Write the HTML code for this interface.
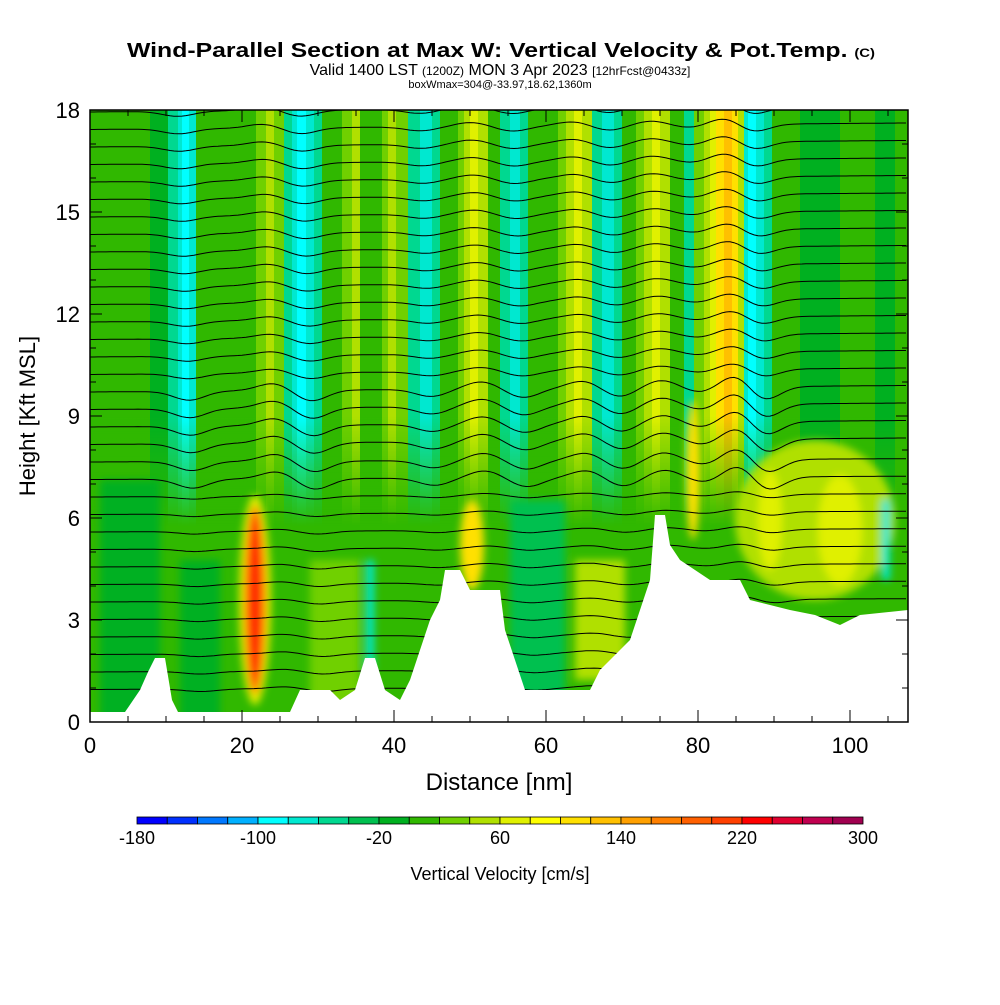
<!DOCTYPE html>
<html><head><meta charset="utf-8"><style>
body{margin:0;background:#fff;width:1000px;height:1000px;overflow:hidden;font-family:"Liberation Sans",Arial,sans-serif}
</style></head><body>
<svg id="s" width="1000" height="1000" xmlns="http://www.w3.org/2000/svg" font-family="Liberation Sans, Arial, sans-serif">
<defs>
<linearGradient id="g1" x1="90" x2="908" y1="0" y2="0" gradientUnits="userSpaceOnUse"></linearGradient>
<linearGradient id="fade" x1="0" x2="0" y1="110" y2="722" gradientUnits="userSpaceOnUse">
<stop offset="0" stop-color="#fff"/><stop offset="0.5" stop-color="#fff"/><stop offset="0.68" stop-color="#000"/><stop offset="1" stop-color="#000"/>
</linearGradient>
<mask id="m1"><rect x="90" y="110" width="818" height="612" fill="url(#fade)"/></mask>
<clipPath id="pc"><rect x="90" y="110" width="818" height="612"/></clipPath>
<filter id="bl"><feGaussianBlur stdDeviation="4"/></filter>
</defs>
<rect x="90" y="110" width="818" height="612" fill="#30b800"/>
<g clip-path="url(#pc)">
<rect x="90" y="110" width="818" height="612" fill="url(#g1)" mask="url(#m1)"/>
<g filter="url(#bl)">
<rect x="100" y="480" width="60" height="240" fill="#00b020"/>
<rect x="180" y="560" width="40" height="160" fill="#00b020"/>
<ellipse cx="255" cy="600" rx="16" ry="105" fill="#e0f000"/>
<ellipse cx="255" cy="600" rx="11" ry="95" fill="#ff8000"/>
<ellipse cx="255" cy="600" rx="6" ry="85" fill="#ff2000"/>
<rect x="310" y="560" width="50" height="150" fill="#70d000"/>
<rect x="366" y="560" width="8" height="110" fill="#00e8d0"/>
<ellipse cx="472" cy="545" rx="12" ry="45" fill="#ffe000"/>
<rect x="510" y="500" width="55" height="200" fill="#00c050"/>
<rect x="575" y="560" width="50" height="120" fill="#b0e000"/>
<ellipse cx="693" cy="470" rx="7" ry="70" fill="#ffe000"/>
<ellipse cx="815" cy="520" rx="80" ry="80" fill="#b0e000"/>
<ellipse cx="770" cy="520" rx="12" ry="50" fill="#e0f000"/>
<ellipse cx="840" cy="530" rx="22" ry="55" fill="#e0f000"/>
<rect x="882" y="500" width="8" height="80" fill="#00e8d0"/>
</g>
<g id="cont" fill="none" stroke="#000" stroke-width="1"></g>
<polygon fill="#fff" points="90,712 125,712 140,690 148,672 155,658 165,658 172,700 178,712 290,712 300,690 330,690 340,700 355,690 365,658 375,658 385,690 400,700 410,680 420,650 430,620 440,600 445,570 460,570 470,590 500,590 505,630 515,660 525,690 590,690 600,670 620,650 630,640 640,610 650,580 655,515 665,515 670,545 680,560 695,570 710,580 740,580 750,600 790,610 815,615 840,625 860,615 908,610 908,722 90,722"/>
</g>
<rect x="90" y="110" width="818" height="612" fill="none" stroke="#000" stroke-width="1.5"/>
<g id="ticks" stroke="#000" stroke-width="1"></g>
<g font-size="22" text-anchor="end">
<text x="80" y="730">0</text><text x="80" y="628">3</text><text x="80" y="526">6</text><text x="80" y="424">9</text><text x="80" y="322">12</text><text x="80" y="220">15</text><text x="80" y="118">18</text>
</g>
<g font-size="22" text-anchor="middle">
<text x="90" y="753">0</text><text x="242" y="753">20</text><text x="394" y="753">40</text><text x="546" y="753">60</text><text x="698" y="753">80</text><text x="850" y="753">100</text>
</g>
<text x="499" y="790" font-size="24" text-anchor="middle">Distance [nm]</text>
<text transform="translate(35,416) rotate(-90)" font-size="22" text-anchor="middle">Height [Kft MSL]</text>
<text x="127" y="57" font-size="20" font-weight="bold" textLength="748" lengthAdjust="spacingAndGlyphs">Wind-Parallel Section at Max W: Vertical Velocity &amp; Pot.Temp. <tspan font-size="12">(C)</tspan></text>
<text x="500" y="75" font-size="16" text-anchor="middle">Valid 1400 LST <tspan font-size="12">(1200Z)</tspan> MON 3 Apr 2023 <tspan font-size="12">[12hrFcst@0433z]</tspan></text>
<text x="500" y="88" font-size="11" text-anchor="middle">boxWmax=304@-33.97,18.62,1360m</text>
<g id="cb"></g>
<g font-size="18" text-anchor="middle">
<text x="137" y="844">-180</text><text x="258" y="844">-100</text><text x="379" y="844">-20</text><text x="500" y="844">60</text><text x="621" y="844">140</text><text x="742" y="844">220</text><text x="863" y="844">300</text>
</g>
<text x="500" y="880" font-size="18" text-anchor="middle">Vertical Velocity [cm/s]</text>
</svg>
<script>
var NS="http://www.w3.org/2000/svg";
var cols=["#0000ff","#0030ff","#0078ff","#00b0ff","#00ffff","#00e8d0","#00d890","#00c050","#00b020","#30b800","#70d000","#b0e000","#e0f000","#ffff00","#ffe000","#ffc000","#ffa000","#ff8000","#ff6000","#ff4000","#ff0000","#e00030","#c00050","#a00050"];
var cb=document.getElementById("cb"),w=726/24;
cols.forEach(function(c,i){var r=document.createElementNS(NS,"rect");r.setAttribute("x",137+i*w);r.setAttribute("y",817);r.setAttribute("width",w);r.setAttribute("height",7);r.setAttribute("fill",c);r.setAttribute("stroke","#000");r.setAttribute("stroke-width","0.8");cb.appendChild(r);});
var st=[[90,"#30b800"],[150,"#00b020"],[168,"#00d890"],[178,"#00e8d0"],[182,"#00ffff"],[189,"#00e8d0"],[196,"#30b800"],[245,"#30b800"],[256,"#70d000"],[266,"#b0e000"],[274,"#70d000"],[284,"#00d890"],[292,"#00e8d0"],[297,"#00ffff"],[306,"#00e8d0"],[314,"#00d890"],[322,"#30b800"],[342,"#70d000"],[352,"#b0e000"],[360,"#30b800"],[382,"#70d000"],[388,"#b0e000"],[396,"#70d000"],[408,"#00d890"],[420,"#00e8d0"],[432,"#00d890"],[440,"#30b800"],[458,"#70d000"],[464,"#b0e000"],[470,"#e0f000"],[478,"#b0e000"],[488,"#30b800"],[500,"#00d890"],[510,"#00e8d0"],[520,"#00d890"],[528,"#30b800"],[558,"#70d000"],[566,"#b0e000"],[574,"#e0f000"],[582,"#b0e000"],[592,"#00d890"],[602,"#00e8d0"],[614,"#00d890"],[622,"#30b800"],[636,"#70d000"],[644,"#b0e000"],[652,"#e0f000"],[660,"#b0e000"],[670,"#30b800"],[684,"#00d890"],[694,"#70d000"],[704,"#b0e000"],[710,"#e0f000"],[716,"#ffe000"],[724,"#ffc000"],[732,"#ffe000"],[738,"#b0e000"],[744,"#00e8d0"],[748,"#00ffff"],[756,"#00e8d0"],[764,"#00d890"],[772,"#30b800"],[800,"#00b020"],[840,"#30b800"],[875,"#00b020"],[895,"#30b800"],[908,"#30b800"]];
var g=document.getElementById("g1");
for(var i=0;i<st.length;i++){var a=(st[i][0]-90)/818,b=i+1<st.length?(st[i+1][0]-90)/818:1;
[a,b].forEach(function(o){var s=document.createElementNS(NS,"stop");s.setAttribute("offset",o);s.setAttribute("stop-color",st[i][1]);g.appendChild(s);});}
var bands=[[178,5],[262,-4],[300,6],[420,4],[470,-4],[512,5],[572,-4],[608,5],[650,-4],[690,3],[725,-7],[752,8]];
function d(x,y){var s=0;bands.forEach(function(b){var xc=b[0]+(y-110)*0.04;s+=b[1]*Math.exp(-Math.pow((x-xc)/22,2));});return s;}
var cg=document.getElementById("cont");
for(var k=0;k<34;k++){var y0=112+k*17.5;if(y0>700)break;var p="";
for(var x=90;x<=908;x+=4){var amp=y0<480?1:0.5;var y=y0-0.02*(x-90)*(y0<450?0.4:0.2)+d(x,y0)*amp*(1+(y0>380&&y0<480?0.8:0));p+=(x==90?"M":"L")+x+","+y.toFixed(1);}
var pa=document.createElementNS(NS,"path");pa.setAttribute("d",p);cg.appendChild(pa);}
var tk=document.getElementById("ticks");
function ln(x1,y1,x2,y2){var l=document.createElementNS(NS,"line");l.setAttribute("x1",x1);l.setAttribute("y1",y1);l.setAttribute("x2",x2);l.setAttribute("y2",y2);tk.appendChild(l);}
for(var h=0;h<=18;h++){var y=722-h*34;var L=h%3==0?12:6;ln(90,y,90+L,y);ln(908,y,908-L,y);}
for(var n=0;n<=107;n+=5){var x=90+n*7.6;var L=n%20==0?12:6;ln(x,722,x,722-L);ln(x,110,x,110+L);}
</script>
</body></html>
